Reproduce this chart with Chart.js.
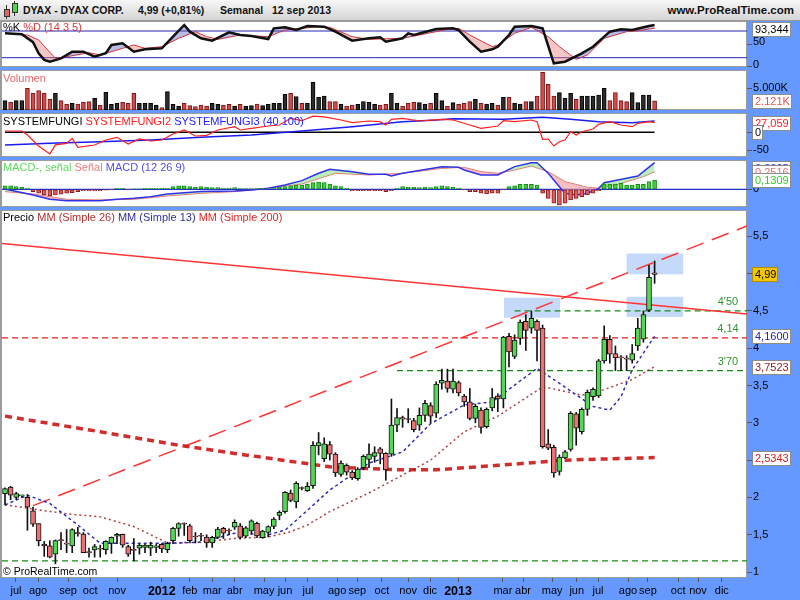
<!DOCTYPE html>
<html lang="es">
<head>
<meta charset="utf-8">
<title>DYAX - DYAX CORP. Semanal</title>
<script src="https://cdn.jsdelivr.net/npm/chart.js@4.4.1/dist/chart.umd.min.js"></script>
<style>
  html, body { margin: 0; padding: 0; }
  body { width: 800px; height: 600px; position: relative; overflow: hidden; background: #6699ff; font-family: "Liberation Sans", Arial, sans-serif; }
  #topbar { position: absolute; left: 0; top: 0; width: 800px; height: 21px; box-sizing: border-box; background: linear-gradient(#f7f7f7, #d5d5d5); border-bottom: 1px solid #9a9a9a; }
  #topbar span { position: absolute; top: 3px; font-size: 10.5px; font-weight: bold; line-height: 14px; color: #111; white-space: pre; }
  canvas { position: absolute; left: 0; }
  .ttl { position: absolute; left: 3px; font-size: 11px; line-height: 13px; white-space: pre; z-index: 2; }
</style>
</head>
<body>
<div id="topbar">
  <svg width="18" height="20" style="position:absolute;left:1px;top:0">
    <line x1="5.5" y1="5" x2="5.5" y2="19" stroke="#333"/>
    <rect x="3.5" y="9.5" width="5" height="7" fill="#e06464" stroke="#333"/>
    <line x1="13.5" y1="1" x2="13.5" y2="16" stroke="#333"/>
    <rect x="11.5" y="3.5" width="5" height="9" fill="#4cd44c" stroke="#333"/>
  </svg>
  <span style="left:23px">DYAX - DYAX CORP.</span>
  <span style="left:138px">4,99 (+0,81%)</span>
  <span style="left:220px">Semanal</span>
  <span style="left:272px">12 sep 2013</span>
  <span style="right:6px;font-size:11.5px">www.ProRealTime.com</span>
</div>

<canvas id="cStoch" width="800" height="49" style="top:21px"></canvas>
<canvas id="cVol" width="800" height="40" style="top:70px"></canvas>
<canvas id="cFungi" width="800" height="44" style="top:113px"></canvas>
<canvas id="cMacd" width="800" height="47" style="top:160px"></canvas>
<canvas id="cPrice" width="800" height="390" style="top:210px"></canvas>

<div class="ttl" style="top:21px"><span style="color:#000">%K</span> <span style="color:#d03a3a">%D (14 3 5)</span></div>
<div class="ttl" style="top:72px;color:#e06a6a">Volumen</div>
<div class="ttl" style="top:115px"><span style="color:#000">SYSTEMFUNGI</span> <span style="color:#ff2020">SYSTEMFUNGI2</span> <span style="color:#2020ff">SYSTEMFUNGI3 (40 100)</span></div>
<div class="ttl" style="top:161px"><span style="color:#5fd85f">MACD-, señal</span> <span style="color:#e88080">Señal</span> <span style="color:#5050e6">MACD (12 26 9)</span></div>
<div class="ttl" style="top:211px"><span style="color:#000">Precio</span> <span style="color:#b03030">MM (Simple 26)</span> <span style="color:#30309a">MM (Simple 13)</span> <span style="color:#dd2a2a">MM (Simple 200)</span></div>
<div class="ttl" style="top:565px;font-size:10.5px;color:#000">© ProRealTime.com</div>

<script>
// DYAX weekly chart, jun 2011 - sep 2013 (one entry per week, index 0..116)

const openP = [2.05,2.14,2.00,2.02,2.00,1.82,1.65,1.375,1.35,1.24,
  1.425,1.38,1.35,1.53,1.51,1.265,1.295,1.31,1.30,1.385,
  1.48,1.505,1.34,1.295,1.32,1.33,1.32,1.33,1.37,1.30,
  1.42,1.585,1.645,1.62,1.475,1.485,1.47,1.39,1.465,1.585,
  1.555,1.60,1.62,1.48,1.55,1.652,1.46,1.53,1.61,1.76,
  1.81,2.06,1.94,2.125,2.09,2.157,2.69,2.52,2.71,2.58,
  2.31,2.43,2.34,2.25,2.40,2.51,2.55,2.65,2.59,2.58,
  2.97,3.07,3.05,3.03,2.97,3.10,3.23,3.13,3.53,3.56,
  3.45,3.54,3.36,3.28,3.06,3.17,2.95,3.20,3.36,3.32,
  4.16,3.89,4.13,4.36,4.27,4.36,4.27,2.72,2.67,2.35,
  2.53,2.645,3.12,2.88,3.18,3.35,3.36,3.83,4.12,3.93,
  3.875,3.86,3.84,4.03,4.12,4.51,5.01];
const highP = [2.13,2.15,2.07,2.03,2.04,1.87,1.65,1.41,1.42,1.43,
  1.53,1.57,1.58,1.60,1.53,1.32,1.37,1.36,1.42,1.47,
  1.52,1.51,1.36,1.45,1.38,1.37,1.40,1.37,1.38,1.40,
  1.60,1.66,1.66,1.64,1.53,1.52,1.50,1.48,1.60,1.60,
  1.58,1.70,1.65,1.61,1.70,1.67,1.56,1.62,1.73,1.82,
  2.08,2.10,2.21,2.14,2.20,2.75,2.87,2.80,2.75,2.60,
  2.49,2.45,2.36,2.40,2.57,2.72,2.68,2.67,2.60,3.32,
  3.19,3.09,3.19,3.06,3.20,3.30,3.27,3.55,3.72,3.72,
  3.72,3.56,3.38,3.46,3.25,3.20,3.20,3.46,3.39,4.16,
  4.20,4.18,4.38,4.45,4.50,4.38,4.31,2.91,2.70,2.57,
  2.63,3.15,3.14,3.20,3.44,3.47,3.85,4.30,4.17,4.03,
  3.90,3.90,4.05,4.40,4.50,5.11,5.17];
const lowP = [1.90,1.97,1.97,2.00,1.56,1.61,1.35,1.21,1.19,1.11,
  1.30,1.26,1.26,1.48,1.26,1.20,1.20,1.20,1.24,1.25,
  1.38,1.33,1.21,1.15,1.24,1.26,1.22,1.26,1.26,1.26,
  1.38,1.48,1.49,1.40,1.39,1.42,1.33,1.33,1.45,1.45,
  1.50,1.57,1.44,1.46,1.51,1.46,1.45,1.47,1.58,1.70,
  1.79,1.94,1.86,2.10,2.08,2.12,2.57,2.48,2.50,2.28,
  2.28,2.30,2.24,2.23,2.37,2.40,2.47,2.45,2.23,2.55,
  2.88,2.94,3.00,2.88,2.90,3.02,3.00,3.07,3.45,3.41,
  3.40,3.36,3.22,3.04,3.00,2.86,2.93,3.16,3.15,3.20,
  3.75,3.86,4.05,3.97,4.20,3.83,2.66,2.64,2.27,2.30,
  2.52,2.62,2.70,2.85,3.10,3.30,3.34,3.80,3.80,3.70,
  3.70,3.70,3.80,3.97,4.08,4.49,4.87];
const closeP = [2.12,2.03,2.05,2.02,1.87,1.64,1.42,1.35,1.20,1.42,
  1.42,1.375,1.57,1.51,1.26,1.26,1.34,1.305,1.41,1.465,
  1.505,1.36,1.24,1.29,1.36,1.36,1.36,1.35,1.31,1.385,
  1.585,1.65,1.64,1.42,1.47,1.48,1.39,1.465,1.576,1.52,
  1.55,1.666,1.465,1.594,1.688,1.483,1.55,1.61,1.71,1.80,
  2.07,1.96,2.19,2.12,2.15,2.70,2.735,2.72,2.58,2.33,
  2.46,2.34,2.26,2.38,2.55,2.58,2.60,2.59,2.37,2.97,
  3.07,3.05,3.045,2.91,3.10,3.26,3.09,3.52,3.57,3.46,
  3.56,3.40,3.28,3.06,3.22,2.94,3.18,3.34,3.32,4.15,
  3.95,4.11,4.35,4.24,4.40,4.24,2.68,2.66,2.33,2.54,
  2.61,3.127,2.93,3.18,3.41,3.45,3.83,4.12,3.92,3.87,
  3.87,3.855,3.93,4.27,4.45,4.95,4.99];

// volume in thousands of shares
const volume = [2147,1763,2147,2147,4983,3833,4447,3833,2453,3833,
  2147,1380,1533,1380,1763,1917,2683,1150,4063,1300,
  1533,1763,1533,3833,1533,1533,1533,1150,537,4217,
  1300,920,1533,997,767,1150,920,1533,1303,1150,
  1303,920,1303,920,997,1380,997,1303,1533,1533,
  3603,3833,3067,1533,1533,6363,2913,3220,1917,1917,
  1303,920,1150,1303,1917,1763,1303,1150,1303,3833,
  1600,920,1533,1763,1687,1380,1533,3833,2147,920,
  1687,1303,1533,1917,2453,1533,1380,1533,1150,2913,
  2913,1533,1380,1917,1917,3220,8663,5903,3220,3987,
  2683,3833,2453,3220,3220,3220,3450,4983,2147,3987,
  2147,1917,3987,1687,3450,3450,2121];

// moving averages, read at selected weeks
const mm13At = [0,4,8,13,17,23,29,35,41,47,50,53,58,65,71,76,82,87,95,100,105,108,110,112,116];
const mm13 = [1.90,2.03,1.92,1.63,1.385,1.385,1.385,1.40,1.52,1.50,1.56,1.76,2.10,2.46,2.61,2.99,3.24,3.28,3.73,3.48,3.22,3.17,3.35,3.71,4.16];
const mm26At = [0,11,17,23,29,35,41,47,51,54,58,65,76,82,88,96,97,103,106,112,116];
const mm26 = [1.90,1.78,1.74,1.61,1.39,1.40,1.45,1.47,1.54,1.63,1.81,2.06,2.50,2.88,3.09,3.48,3.47,3.37,3.42,3.58,3.7523];
const mm200At = [0,17,31,41,58,70,77,88,100,116];
const mm200 = [3.09,2.88,2.70,2.59,2.41,2.37,2.37,2.43,2.50,2.5343];

// hand-drawn trend lines and levels
const resistAt = [-0.54, 132.5];
const resistVal = [5.404, 4.458];
const channelAt = [5, 132.5];
const channelVal = [1.89, 5.638];
const redLevel = 4.14;
const greenLevels = [4.50, 3.70, 1.15];
const greenFrom = [91, 70, -0.54];
const levelNotes = ["4'50", "4,14", "3'70"];
const levelNoteVal = [4.50, 4.14, 3.70];
const zoneFrom = [89.1, 111, 111];
const zoneTo = [99.1, 121.1, 121.1];
const zoneHigh = [4.677, 4.69, 5.27];
const zoneLow = [4.409, 4.42, 4.99];

// stochastic %K / %D
const kAt = [0,3,5,6,7,8,10,12,14,16,18,19,21,23,25,28,30,32,33,35,37,40,42,44,47,48,50,52,54,57,59,62,65,67,68,71,72,73,77,80,81,83,85,87,88,90,91,94,96,98,100,103,105,108,110,112,115,116];
const kVal = [74.8,72.6,55,30,15,11,18.6,33.5,33.5,22.2,29.9,48.5,52.4,33.5,38.9,41.1,67.2,93.5,78.5,63.6,58.2,77.1,71.0,68.8,62.0,86.0,88.3,82.2,91.2,89.7,78.5,58.2,63.6,65.8,56.0,63.6,74.8,71.0,84.5,86.0,82.2,56.0,33.5,38.9,44.7,71.0,89.7,91.2,86.0,7.4,11.0,29.9,44.7,78.5,83.8,82.2,91.2,93.344];
const dAt = [0,4,6,9,11,15,17,21,23,25,28,31,34,36,38,42,47,50,53,56,58,62,65,71,74,79,81,83,87,88,91,94,97,99,102,104,107,111,113,116];
const dVal = [74.8,71.0,59.8,18.6,22.2,31.2,26.1,41.1,48.5,41.1,44.7,63.6,78.5,67.2,61.3,71.0,67.2,82.2,86.0,89.7,88.3,67.2,61.3,63.6,71.0,83.8,86.0,71.0,44.7,48.5,74.8,88.3,67.2,44.7,16.4,26.1,63.6,78.5,80.8,86.0];

// SYSTEMFUNGI2 / SYSTEMFUNGI3
const sf2At = [0,3,4,6,8,9,11,12,13,16,18,20,22,24,26,28,30,32,34,36,38,41,42,44,47,49,51,53,55,57,60,62,65,67,68,69,71,74,78,80,83,85,88,89,91,94,95,96,97,98,99,100,101,102,103,105,106,108,110,112,113,115,116];
const sf2 = [3.6,3.6,-7.5,-38,-60,-35,-30.6,-16.7,-41.7,-35.3,-21.4,-13.9,-32.5,-18.6,-24.2,-21.4,-4.7,6.4,-10.3,-8.3,6.4,15.6,6.4,11.1,17.5,20.3,38.9,32.2,45,43,34.2,26.7,31.4,29.4,20.3,36.1,38.9,31.4,36.1,34.2,20.3,10.8,17.5,32.2,29.4,34.2,29.4,-19.4,-18.6,-38.1,-26.1,-21.4,1.7,-7.5,1.7,9.2,22.2,29.4,20.3,15.6,25,29.4,27.059];
const sf3At = [0,8,17,26,35,44,53,62,71,77,80,89,96,101,106,112,116];
const sf3 = [-35.3,-30.6,-26,-21.4,-13.9,-7.5,3.6,15.6,29.4,34.2,37.9,36,41.6,36,29.4,26.7,31.4];

// MACD (12 26 9)
const macdAt = [0,5,8,11,17,20,23,26,29,32,35,41,44,47,50,53,56,58,62,65,68,69,71,78,81,82,85,88,91,94,95,97,99,100,102,104,106,107,111,113,114,116];
const macd = [0.005,-0.081,-0.143,-0.162,-0.162,-0.143,-0.129,-0.105,-0.067,-0.048,-0.033,-0.024,-0.010,0.014,0.062,0.124,0.229,0.286,0.252,0.214,0.214,0.190,0.229,0.324,0.314,0.276,0.205,0.205,0.324,0.380,0.380,0.229,0.038,-0.057,-0.081,-0.057,0.014,0.095,0.157,0.190,0.252,0.3825];
const signalAt = [0,5,11,17,23,29,35,41,47,53,59,65,71,78,82,85,88,91,94,97,100,104,106,109,112,114,116];
const signal = [-0.033,-0.067,-0.143,-0.152,-0.143,-0.095,-0.057,-0.033,0.014,0.076,0.229,0.205,0.229,0.300,0.314,0.252,0.229,0.276,0.333,0.252,0.110,0.029,0.014,0.062,0.133,0.181,0.2516];
const macdHist = [0.048,0.048,0.038,0.029,0.014,-0.033,-0.057,-0.081,-0.095,-0.081,
  -0.071,-0.057,-0.048,-0.033,-0.024,-0.024,-0.024,-0.019,-0.014,-0.005,
  0.014,0.014,-0.005,0.002,0.005,0.014,0.014,0.014,0.014,0.014,
  0.038,0.048,0.048,0.038,0.029,0.038,0.029,0.024,0.024,0.014,
  0.014,0.024,0.010,0.010,0.010,0.010,0.010,0.010,0.019,0.029,
  0.038,0.048,0.062,0.062,0.076,0.095,0.105,0.095,0.076,0.048,
  0.038,0.014,-0.019,-0.019,-0.019,-0.019,-0.019,-0.019,-0.033,-0.019,
  0.014,0.038,0.029,0.029,0.024,0.029,0.024,0.038,0.048,0.038,
  0.029,0.014,-0.005,-0.033,-0.033,-0.057,-0.067,-0.057,-0.057,-0.005,
  0.038,0.048,0.071,0.071,0.071,0.062,-0.057,-0.129,-0.200,-0.224,
  -0.200,-0.152,-0.129,-0.105,-0.081,-0.057,-0.024,0.076,0.076,0.076,
  0.086,0.062,0.062,0.071,0.071,0.110,0.1309];

// time axis: month labels and the week position they sit at
const monthAt = [1.96,5.9,11.25,15.2,20,28,33,37,41,46.25,50,54.1,59.3,62.9,67.3,72,75.9,80.9,88.9,92.5,97.7,102.1,105.9,111.25,114.8,120.2,123.75,128];
const monthLabels = ['jul','ago','sep','oct','nov','2012','feb','mar','abr','may','jun','jul','ago','sep','oct','nov','dic','2013','mar','abr','may','jun','jul','ago','sep','oct','nov','dic'];

// axis ticks per panel
const stochTicks = [0, 50];
const volTicks = [5000];
const fungiTicks = [0, -50];
const macdTicks = [0];
const priceTicks = [1, 1.5, 2, 2.5, 3, 3.5, 4, 4.5, 5, 5.5];

const X_MIN = -0.54, X_MAX = 132.5;
const FONT = '"Liberation Sans", Arial, sans-serif';

Chart.defaults.font.family = FONT;
Chart.defaults.font.size = 11;
Chart.defaults.color = '#000';
Chart.defaults.animation = false;
Chart.defaults.responsive = false;
Chart.defaults.events = [];

const comma = v => String(v).replace('.', ',');
const pts = (at, val) => at.map((x, k) => ({ x, y: val[k] }));
const flat = (from, to, v) => [{ x: from, y: v }, { x: to, y: v }];
const last = a => a[a.length - 1];
const weeks = closeP.map((_, i) => i);
const up = weeks.map(i => closeP[i] >= openP[i]);

// white panel with grey frame
const panelFrame = {
  id: 'panelFrame',
  beforeDraw(chart) {
    const { ctx, chartArea: a } = chart;
    ctx.save();
    ctx.fillStyle = '#fff';
    ctx.fillRect(a.left, a.top, a.right - a.left, a.bottom - a.top);
    ctx.fillStyle = '#9c9c9c';
    ctx.fillRect(0, a.top, a.left, a.bottom - a.top);
    ctx.fillRect(a.left, a.top, a.right - a.left, 1);
    ctx.fillRect(a.left, a.bottom - 1, a.right - a.left, 1);
    ctx.fillRect(a.right - 1, a.top, 1, a.bottom - a.top);
    ctx.restore();
  }
};

// last-value boxes on the right axis
function axisBoxes(boxes) {
  return {
    id: 'axisBoxes',
    afterDraw(chart) {
      const { ctx, chartArea: a } = chart;
      const ys = chart.scales.y;
      ctx.save();
      ctx.font = '11px ' + FONT;
      ctx.textBaseline = 'middle';
      boxes.forEach(b => {
        let py = ys.getPixelForValue(b.value);
        py = Math.round(Math.max(a.top + 8, Math.min(a.bottom - 8, py)));
        const w = Math.round(ctx.measureText(b.text).width) + 5;
        const x0 = a.right + 5;
        ctx.fillStyle = b.bg || '#fff';
        ctx.fillRect(x0, py - 7, w, 15);
        ctx.strokeStyle = b.border || '#8c8c8c';
        ctx.lineWidth = 1;
        ctx.strokeRect(x0 + 0.5, py - 6.5, w - 1, 14);
        ctx.fillStyle = b.color;
        ctx.fillText(b.text, x0 + 3, py + 1);
      });
      ctx.restore();
    }
  };
}

// shaded zones and level notes on the price panel
const priceNotes = {
  id: 'priceNotes',
  beforeDatasetsDraw(chart) {
    const { ctx } = chart;
    const xs = chart.scales.x, ys = chart.scales.y;
    ctx.save();
    ctx.fillStyle = 'rgba(150,186,246,0.55)';
    zoneFrom.forEach((f, k) => {
      const l = xs.getPixelForValue(f), r = xs.getPixelForValue(zoneTo[k]);
      const t = ys.getPixelForValue(zoneHigh[k]), b = ys.getPixelForValue(zoneLow[k]);
      ctx.fillRect(l, t, r - l, b - t);
    });
    ctx.restore();
  },
  afterDatasetsDraw(chart) {
    const { ctx } = chart;
    const xs = chart.scales.x, ys = chart.scales.y;
    ctx.save();
    ctx.font = '11px ' + FONT;
    ctx.fillStyle = '#2f962f';
    ctx.textAlign = 'center';
    ctx.textBaseline = 'middle';
    levelNotes.forEach((t, k) => {
      ctx.fillText(t, xs.getPixelForValue(129.1), ys.getPixelForValue(levelNoteVal[k]) - 9);
    });
    ctx.restore();
  }
};

function xAxis(show) {
  return {
    type: 'linear', min: X_MIN, max: X_MAX, offset: false, display: show,
    grid: { drawOnChartArea: false, drawTicks: true, tickLength: 4, color: '#555', offset: false },
    border: { display: false },
    afterBuildTicks: s => { s.ticks = monthAt.map(v => ({ value: v })); },
    afterFit: s => { s.height = show ? 22 : 0; s.paddingLeft = 0; s.paddingRight = 0; },
    ticks: {
      autoSkip: false, maxRotation: 0, minRotation: 0, padding: 2, color: '#000',
      callback: (v, i) => monthLabels[i],
      font: ctx => (/^\d{4}$/.test(monthLabels[ctx.index] || '') ? { size: 12.5, weight: 'bold' } : { size: 11 })
    }
  };
}

function yAxis(min, max, tickVals, fmt, labelOffset) {
  return {
    type: 'linear', position: 'right', min, max,
    grid: { drawOnChartArea: false, drawTicks: true, tickLength: 5, color: '#555' },
    border: { display: false },
    afterBuildTicks: s => { s.ticks = tickVals.map(v => ({ value: v })); },
    afterFit: s => { s.width = 53; s.paddingTop = 0; s.paddingBottom = 0; },
    ticks: { autoSkip: false, padding: 1, color: '#000', font: { size: 11 }, labelOffset: labelOffset || 0, callback: v => fmt(v) }
  };
}

function lineDs(data, color, width, dash, order, extra) {
  return Object.assign({
    type: 'line', data, borderColor: color, borderWidth: width, borderDash: dash || [],
    pointRadius: 0, fill: false, tension: 0, order
  }, extra || {});
}

function panel(id, type, datasets, yOpts, showX, plugins, padBottom) {
  return new Chart(document.getElementById(id), {
    type,
    data: { datasets },
    options: {
      layout: { padding: { left: 2, right: 0, top: 0, bottom: padBottom || 0 } },
      scales: { x: xAxis(showX), y: yOpts },
      plugins: { legend: { display: false }, tooltip: { enabled: false } },
      elements: { point: { radius: 0 } }
    },
    plugins: [panelFrame].concat(plugins || [])
  });
}

// %K %D (14 3 5)
panel('cStoch', 'line', [
  lineDs(pts(kAt, kVal), '#111', 2.5, [], 0, {
    fill: { target: 1, above: 'rgba(90,90,185,0.42)', below: 'rgba(232,120,120,0.42)' }
  }),
  lineDs(pts(dAt, dVal), '#e02a2a', 1, [], 1),
  lineDs(flat(X_MIN, X_MAX, 80), '#2424b0', 1, [], 2),
  lineDs(flat(X_MIN, X_MAX, 20), '#2424b0', 1, [], 3)
], yAxis(-0.9, 102.5, stochTicks, v => comma(v), -2), false, [
  axisBoxes([{ value: last(kVal), text: comma(last(kVal).toFixed(3)), color: '#000' }])
], 3);

// Volumen
panel('cVol', 'bar', [{
  type: 'bar',
  data: weeks.map(i => ({ x: i, y: volume[i] })),
  backgroundColor: weeks.map(i => (up[i] ? '#2b2b2b' : '#d24a4a')),
  borderColor: weeks.map(i => (up[i] ? '#000' : '#7a1616')),
  borderWidth: 1, borderSkipped: false, barThickness: 4, grouped: false, order: 0
}], yAxis(0, 9216, volTicks, v => (v / 1000).toFixed(3) + 'K'), false, [
  axisBoxes([{ value: last(volume), text: (last(volume) / 1000).toFixed(3) + 'K', color: '#e05656' }])
]);

// SYSTEMFUNGI
panel('cFungi', 'line', [
  lineDs(pts(sf2At, sf2), '#ff1e1e', 1.2, [], 0),
  lineDs(pts(sf3At, sf3), '#1c1cf0', 1.5, [], 1),
  lineDs(flat(0, 116, 0), '#000', 1.5, [], 2)
], yAxis(-68.6, 53.6, fungiTicks, v => comma(v)), false, [
  axisBoxes([
    { value: last(sf2), text: comma(last(sf2).toFixed(3)), color: '#ff1a1a' },
    { value: 0, text: '0', color: '#000' }
  ])
]);

// MACD (12 26 9)
panel('cMacd', 'bar', [
  {
    type: 'bar',
    data: weeks.map(i => ({ x: i, y: macdHist[i] })),
    backgroundColor: macdHist.map(h => (h >= 0 ? '#3fcf3f' : '#e25e5e')),
    borderColor: macdHist.map(h => (h >= 0 ? '#168a16' : '#8a1c1c')),
    borderWidth: 1, borderSkipped: false, barThickness: 4, grouped: false, order: 0
  },
  lineDs(pts(macdAt, macd), '#3232e6', 1.5, [], 1, {
    fill: { target: 2, above: 'rgba(140,225,140,0.6)', below: 'rgba(240,150,150,0.6)' }
  }),
  lineDs(pts(signalAt, signal), '#ee6c6c', 1, [], 2),
  lineDs(flat(X_MIN, X_MAX, 0), '#2233cc', 1.2, [], 3)
], yAxis(-0.253, 0.419, macdTicks, v => comma(v)), false, [
  axisBoxes([
    { value: last(macd), text: comma(last(macd).toFixed(4)), color: '#3232e6' },
    { value: last(signal), text: comma(last(signal).toFixed(4)), color: '#e87070' },
    { value: last(macdHist), text: comma(last(macdHist).toFixed(4)), color: '#33cc33' }
  ])
]);

// Precio
panel('cPrice', 'bar', [
  {
    type: 'bar',
    data: weeks.map(i => ({ x: i, y: [lowP[i], highP[i]] })),
    backgroundColor: '#111', borderWidth: 0, barThickness: 1, grouped: false, order: 1
  },
  {
    type: 'bar',
    data: weeks.map(i => ({ x: i, y: [openP[i], closeP[i]] })),
    backgroundColor: weeks.map(i => (up[i] ? '#52d852' : '#ea7272')),
    borderColor: '#111', borderWidth: 1, borderSkipped: false, barThickness: 5,
    minBarLength: 1, grouped: false, order: 0
  },
  lineDs(pts(mm13At, mm13), '#2e2eb0', 1.5, [3, 3], 3),
  lineDs(pts(mm26At, mm26), 'rgba(165,30,30,0.85)', 1.5, [2, 3], 4),
  lineDs(pts(mm200At, mm200), 'rgba(205,22,22,0.9)', 3.5, [7, 5], 5),
  lineDs(pts(resistAt, resistVal), '#ff3434', 1.5, [], 6),
  lineDs(pts(channelAt, channelVal), '#ff3434', 1.5, [18, 9], 7),
  lineDs(flat(X_MIN, X_MAX, redLevel), '#ee1c1c', 1.2, [6, 4], 8),
  lineDs(flat(greenFrom[0], X_MAX, greenLevels[0]), '#178c17', 1.2, [6, 4], 9),
  lineDs(flat(greenFrom[1], X_MAX, greenLevels[1]), '#178c17', 1.2, [6, 4], 10),
  lineDs(flat(greenFrom[2], X_MAX, greenLevels[2]), '#178c17', 1.2, [6, 4], 11)
], yAxis(0.92, 5.853, priceTicks, v => comma(v)), true, [
  priceNotes,
  axisBoxes([
    { value: last(mm200), text: comma(last(mm200).toFixed(4)), color: '#d41c1c' },
    { value: last(mm26), text: comma(last(mm26).toFixed(4)), color: '#8e1a1a' },
    { value: last(mm13), text: comma(last(mm13).toFixed(4)), color: '#2424a8' },
    { value: last(closeP), text: comma(last(closeP).toFixed(2)), color: '#000', bg: '#f7c600', border: '#b38d00' }
  ])
]);
</script>
</body>
</html>
